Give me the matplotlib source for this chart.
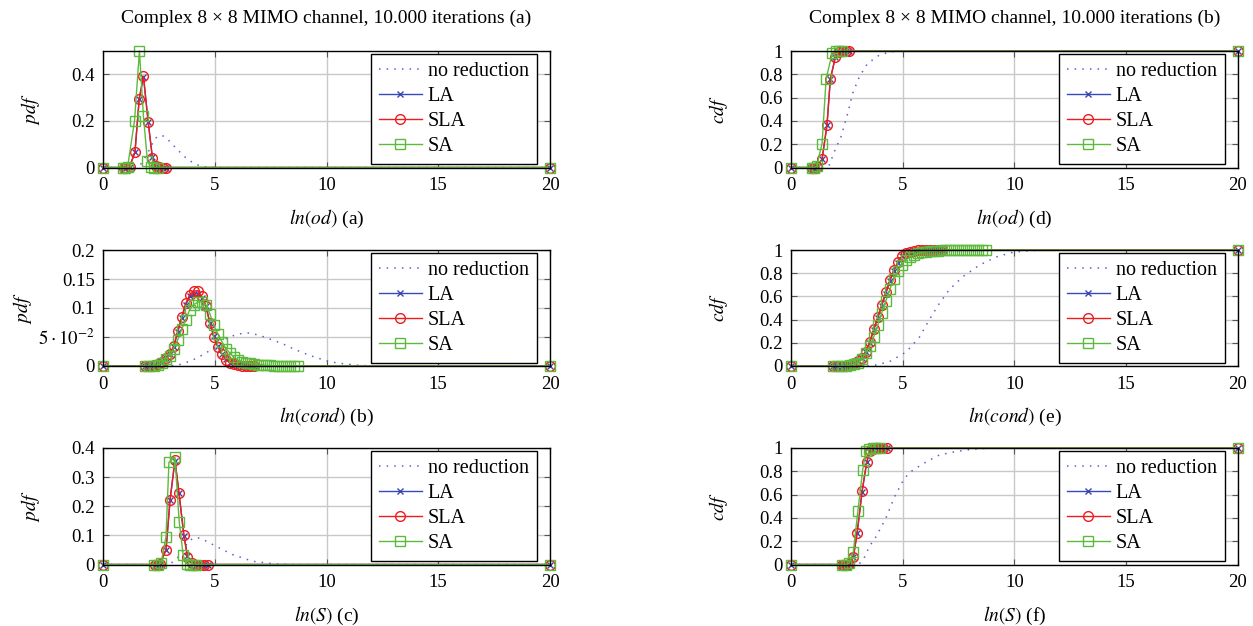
import matplotlib
matplotlib.use("Agg")
import matplotlib.pyplot as plt

plt.rcParams['font.family'] = ['Liberation Serif', 'DejaVu Serif']
plt.rcParams['mathtext.fontset'] = 'stix'
plt.rcParams['font.size'] = 13.5

# ---- ln(od) ----
od_nr_x = [0, 1.4, 1.7, 1.9, 2.1, 2.3, 2.5, 2.7, 2.9, 3.1, 3.4, 3.7, 4.0, 4.3, 4.6, 5.0, 20]
od_nr_pdf = [0, 0, 0.015, 0.045, 0.08, 0.122, 0.137, 0.135, 0.12, 0.1, 0.07, 0.042, 0.022, 0.008, 0.002, 0, 0]
od_la_x = [0, 0.92, 1.03, 1.19, 1.43, 1.62, 1.81, 2.02, 2.21, 2.38, 2.52, 2.67, 2.82, 20]
od_la_pdf = [0, 0, 0, 0.003, 0.066, 0.293, 0.39, 0.197, 0.043, 0.008, 0, 0, 0, 0]
od_sla_pdf = [0, 0, 0, 0.003, 0.066, 0.295, 0.392, 0.196, 0.042, 0.008, 0.001, 0, 0, 0]
od_sa_x = [0, 0.9, 1.0, 1.1, 1.41, 1.63, 1.81, 1.99, 2.15, 2.3, 2.45, 20]
od_sa_pdf = [0, 0, 0, 0.002, 0.2, 0.5, 0.22, 0.026, 0.002, 0, 0, 0]

od_nr_cx = [0, 1.5, 1.72, 1.94, 2.24, 2.54, 2.76, 3.06, 3.43, 3.96, 4.48, 5.0, 20]
od_nr_cdf = [0, 0, 0.023, 0.137, 0.266, 0.466, 0.637, 0.78, 0.894, 0.966, 0.994, 1, 1]
od_la_cx = [0, 0.94, 1.04, 1.15, 1.39, 1.61, 1.76, 1.99, 2.16, 2.31, 2.46, 2.61, 20]
od_la_cdf = [0, 0, 0, 0.002, 0.071, 0.363, 0.757, 0.951, 0.99, 0.998, 1, 1, 1]
od_sla_cdf = [0, 0, 0, 0.002, 0.072, 0.365, 0.76, 0.952, 0.99, 0.998, 1, 1, 1]
od_sa_cx = [0, 0.94, 1.04, 1.15, 1.39, 1.57, 1.84, 2.0, 2.15, 2.3, 20]
od_sa_cdf = [0, 0, 0, 0.01, 0.206, 0.757, 0.98, 0.998, 1, 1, 1]

# ---- ln(cond) ----
cond_nr_x = [0, 3.0, 3.5, 4.0, 4.5, 5.0, 5.5, 6.0, 6.5, 7.0, 7.5, 8.0, 8.5, 9.0, 9.5, 10.0, 10.5, 11.0, 11.5, 12.0, 13.0, 20]
cond_nr_pdf = [0, 0, 0.003, 0.01, 0.02, 0.032, 0.047, 0.055, 0.057, 0.053, 0.046, 0.039, 0.03, 0.022, 0.015, 0.009,
               0.005, 0.003, 0.001, 0.0005, 0, 0]
cond_la_x = [0, 1.9, 2.08, 2.26, 2.44, 2.62, 2.8, 2.98, 3.16, 3.34, 3.52, 3.7, 3.88, 4.06, 4.24, 4.42, 4.6, 4.78,
             4.96, 5.14, 5.32, 5.5, 5.68, 5.86, 6.04, 6.22, 6.4, 6.58, 6.76, 20]
cond_la_pdf = [0, 0, 0, 0.001, 0.003, 0.007, 0.013, 0.02, 0.032, 0.058, 0.082, 0.105, 0.12, 0.125, 0.124, 0.118,
               0.104, 0.075, 0.052, 0.034, 0.02, 0.012, 0.006, 0.003, 0.001, 0, 0, 0, 0, 0]
cond_sla_pdf = [0, 0, 0, 0.001, 0.003, 0.007, 0.013, 0.021, 0.034, 0.06, 0.085, 0.108, 0.123, 0.129, 0.13, 0.12,
                0.104, 0.074, 0.05, 0.033, 0.02, 0.011, 0.006, 0.003, 0.001, 0, 0, 0, 0, 0]
cond_sa_x = [0, 1.9, 2.08, 2.26, 2.44, 2.62, 2.8, 2.98, 3.16, 3.34, 3.52, 3.7, 3.88, 4.06, 4.24, 4.42, 4.6, 4.78,
             4.96, 5.14, 5.32, 5.5, 5.68, 5.86, 6.04, 6.22, 6.4, 6.58, 6.76, 6.94, 7.12, 7.3, 7.48, 7.66, 7.84,
             8.02, 8.2, 8.38, 8.56, 8.74, 20]
cond_sa_pdf = [0, 0, 0, 0, 0.002, 0.005, 0.012, 0.018, 0.03, 0.045, 0.063, 0.08, 0.097, 0.106, 0.11, 0.111, 0.105,
               0.09, 0.07, 0.055, 0.042, 0.03, 0.022, 0.015, 0.01, 0.007, 0.006, 0.005, 0.003, 0.002, 0.002,
               0.001, 0.001, 0, 0, 0, 0, 0, 0, 0, 0]

cond_nr_cx = [0, 3.6, 4.4, 5.15, 5.75, 6.19, 6.64, 7.09, 7.69, 8.43, 9.18, 9.93, 10.67, 11.4, 12.5, 20]
cond_nr_cdf = [0, 0, 0.037, 0.12, 0.25, 0.4, 0.54, 0.66, 0.77, 0.87, 0.94, 0.98, 0.995, 0.999, 1, 1]
cond_la_cdf = [0, 0, 0, 0.001, 0.003, 0.011, 0.022, 0.04, 0.07, 0.12, 0.2, 0.31, 0.41, 0.52, 0.62, 0.73, 0.82,
               0.89, 0.945, 0.97, 0.985, 0.992, 0.996, 0.998, 0.999, 1, 1, 1, 1, 1]
cond_sla_cdf = [0, 0, 0, 0.001, 0.003, 0.011, 0.023, 0.041, 0.072, 0.125, 0.205, 0.315, 0.42, 0.53, 0.635, 0.74,
                0.83, 0.895, 0.948, 0.972, 0.986, 0.993, 0.996, 0.998, 0.999, 1, 1, 1, 1, 1]
cond_sa_cdf = [0, 0, 0, 0, 0.002, 0.006, 0.015, 0.03, 0.06, 0.11, 0.17, 0.25, 0.35, 0.46, 0.56, 0.66, 0.75, 0.82,
               0.875, 0.915, 0.94, 0.958, 0.97, 0.979, 0.985, 0.99, 0.993, 0.995, 0.997, 0.998, 0.999, 0.999,
               1, 1, 1, 1, 1, 1, 1, 1, 1]

# ---- ln(S) ----
s_nr_x = [0, 2.8, 3.07, 3.3, 3.52, 3.81, 4.04, 4.2, 4.5, 5.07, 5.8, 6.7, 7.7, 8.5, 20]
s_nr_pdf = [0, 0, 0.006, 0.02, 0.04, 0.079, 0.09, 0.093, 0.085, 0.062, 0.034, 0.011, 0.002, 0, 0]
s_la_x = [0, 2.33, 2.45, 2.55, 2.82, 3.0, 3.22, 3.4, 3.62, 3.78, 3.96, 4.15, 4.33, 4.51, 4.7, 20]
s_la_pdf = [0, 0, 0, 0.002, 0.051, 0.221, 0.357, 0.246, 0.099, 0.028, 0.004, 0, 0, 0, 0, 0]
s_sla_pdf = [0, 0, 0, 0.002, 0.05, 0.222, 0.36, 0.245, 0.1, 0.027, 0.004, 0, 0, 0, 0, 0]
s_sa_x = [0, 2.3, 2.45, 2.6, 2.82, 2.95, 3.22, 3.41, 3.59, 3.74, 3.89, 4.04, 4.18, 20]
s_sa_pdf = [0, 0, 0, 0.005, 0.096, 0.351, 0.368, 0.147, 0.031, 0.003, 0, 0, 0, 0]

s_nr_cx = [0, 3.0, 3.21, 3.51, 3.81, 4.25, 4.63, 5.07, 5.45, 6.04, 6.64, 7.39, 8.13, 9.0, 20]
s_nr_cdf = [0, 0, 0.03, 0.156, 0.24, 0.4, 0.58, 0.74, 0.81, 0.88, 0.94, 0.97, 0.99, 1, 1]
s_la_cx = [0, 2.28, 2.39, 2.51, 2.61, 2.79, 2.96, 3.18, 3.39, 3.54, 3.66, 3.8, 3.95, 4.1, 4.28, 20]
s_la_cdf = [0, 0, 0, 0, 0.005, 0.065, 0.27, 0.625, 0.88, 0.975, 0.994, 0.999, 1, 1, 1, 1]
s_sla_cdf = [0, 0, 0, 0, 0.005, 0.064, 0.272, 0.628, 0.882, 0.976, 0.994, 0.999, 1, 1, 1, 1]
s_sa_cx = [0, 2.3, 2.45, 2.6, 2.79, 2.99, 3.21, 3.36, 3.51, 3.66, 3.81, 3.96, 20]
s_sa_cdf = [0, 0, 0, 0.01, 0.11, 0.455, 0.815, 0.975, 0.995, 1, 1, 1, 1]

labels = ['no reduction', 'LA', 'SLA', 'SA']
x_ticks = [0, 5, 10, 15, 20]

C_NR = '#5566cc'
C_LA = '#3848b8'
C_SLA = '#ee1c1c'
C_SA = '#5cbb3c'


def draw_panel(ax, nr, la, sla, sa, ylim, yticks, yticklabels, ylabel, xlabel, ylab_x):
    ax.plot(nr[0], nr[1], color=C_NR, lw=1.1, linestyle=(0, (1, 4)), label=labels[0])
    ax.plot(la[0], la[1], color=C_LA, lw=1.0, marker='x', ms=5, mew=1.0, label=labels[1], clip_on=False)
    ax.plot(sla[0], sla[1], color=C_SLA, lw=1.0, marker='o', ms=7, mfc='none', mew=1.0, label=labels[2],
            clip_on=False)
    ax.plot(sa[0], sa[1], color=C_SA, lw=1.0, marker='s', ms=7, mfc='none', mew=1.0, label=labels[3],
            clip_on=False)
    ax.set_xlim(0, 20)
    ax.set_ylim(*ylim)
    ax.set_xticks(x_ticks)
    ax.set_yticks(yticks)
    ax.set_yticklabels(yticklabels)
    ax.grid(color='#c8c8c8', lw=1.0)
    ax.set_axisbelow(True)
    ax.tick_params(direction='in', top=True, right=True, length=4, color='#555555')
    ax.tick_params(axis='x', pad=7)
    ax.tick_params(axis='y', pad=6)
    for s in ax.spines.values():
        s.set_linewidth(1.0)
    ax.set_xlabel(xlabel, fontsize=14)
    ax.xaxis.set_label_coords(0.5, -0.44)
    ax.xaxis.label.set_va('center')
    ax.set_ylabel(ylabel, fontsize=14)
    ax.yaxis.set_label_coords(ylab_x, 0.5)
    ax.yaxis.label.set_va('center')
    leg = ax.legend(loc='upper right', bbox_to_anchor=(0.971, 0.975), borderaxespad=0,
                    fancybox=False, framealpha=1, edgecolor='black', handlelength=2.1,
                    handletextpad=0.3, labelspacing=0.28, borderpad=0.42, fontsize=14.5)
    leg.get_frame().set_linewidth(1.0)
    leg.set_zorder(10)


fig = plt.figure(figsize=(12.53, 6.26), dpi=100)
W, H = 1253, 626
col_left = [103, 791]
rows = [(51, 167.5), (250, 366), (448, 564.5)]
axw = 447

pdf_ticks = [([0, 0.2, 0.4], ['0', '0.2', '0.4'], (0, 0.5)),
             ([0, 0.05, 0.1, 0.15, 0.2], ['0', r'$5\cdot10^{-2}$', '0.1', '0.15', '0.2'], (0, 0.2)),
             ([0, 0.1, 0.2, 0.3, 0.4], ['0', '0.1', '0.2', '0.3', '0.4'], (0, 0.4))]
cdf_ticks = ([0, 0.2, 0.4, 0.6, 0.8, 1], ['0', '0.2', '0.4', '0.6', '0.8', '1'], (0, 1))

pdf_data = [((od_nr_x, od_nr_pdf), (od_la_x, od_la_pdf), (od_la_x, od_sla_pdf), (od_sa_x, od_sa_pdf)),
            ((cond_nr_x, cond_nr_pdf), (cond_la_x, cond_la_pdf), (cond_la_x, cond_sla_pdf), (cond_sa_x, cond_sa_pdf)),
            ((s_nr_x, s_nr_pdf), (s_la_x, s_la_pdf), (s_la_x, s_sla_pdf), (s_sa_x, s_sa_pdf))]
cdf_data = [((od_nr_cx, od_nr_cdf), (od_la_cx, od_la_cdf), (od_la_cx, od_sla_cdf), (od_sa_cx, od_sa_cdf)),
            ((cond_nr_cx, cond_nr_cdf), (cond_la_x, cond_la_cdf), (cond_la_x, cond_sla_cdf), (cond_sa_x, cond_sa_cdf)),
            ((s_nr_cx, s_nr_cdf), (s_la_cx, s_la_cdf), (s_la_cx, s_sla_cdf), (s_sa_cx, s_sa_cdf))]
names = ['od', 'cond', 'S']
pdf_letters = ['a', 'b', 'c']
cdf_letters = ['d', 'e', 'f']
ylab_pdf = [-0.163, -0.181, -0.163]

for i, (top, bot) in enumerate(rows):
    rect_l = [col_left[0] / W, 1 - bot / H, axw / W, (bot - top) / H]
    rect_r = [col_left[1] / W, 1 - bot / H, axw / W, (bot - top) / H]
    axl = fig.add_axes(rect_l)
    axr = fig.add_axes(rect_r)
    yt, ytl, yl = pdf_ticks[i]
    draw_panel(axl, *pdf_data[i], yl, yt, ytl, r'$pdf$',
               r'$ln(%s)$ (%s)' % (names[i], pdf_letters[i]), ylab_pdf[i])
    yt, ytl, yl = cdf_ticks
    draw_panel(axr, *cdf_data[i], yl, yt, ytl, r'$cdf$',
               r'$ln(%s)$ (%s)' % (names[i], cdf_letters[i]), -0.163)

for i, letter in enumerate(['a', 'b']):
    fig.text((col_left[i] + axw / 2) / W, 1 - 18 / H,
             'Complex 8 \u00d7 8 MIMO channel, 10.000 iterations (%s)' % letter,
             ha='center', va='center', fontsize=14)

fig.savefig('out.png', dpi=100)
